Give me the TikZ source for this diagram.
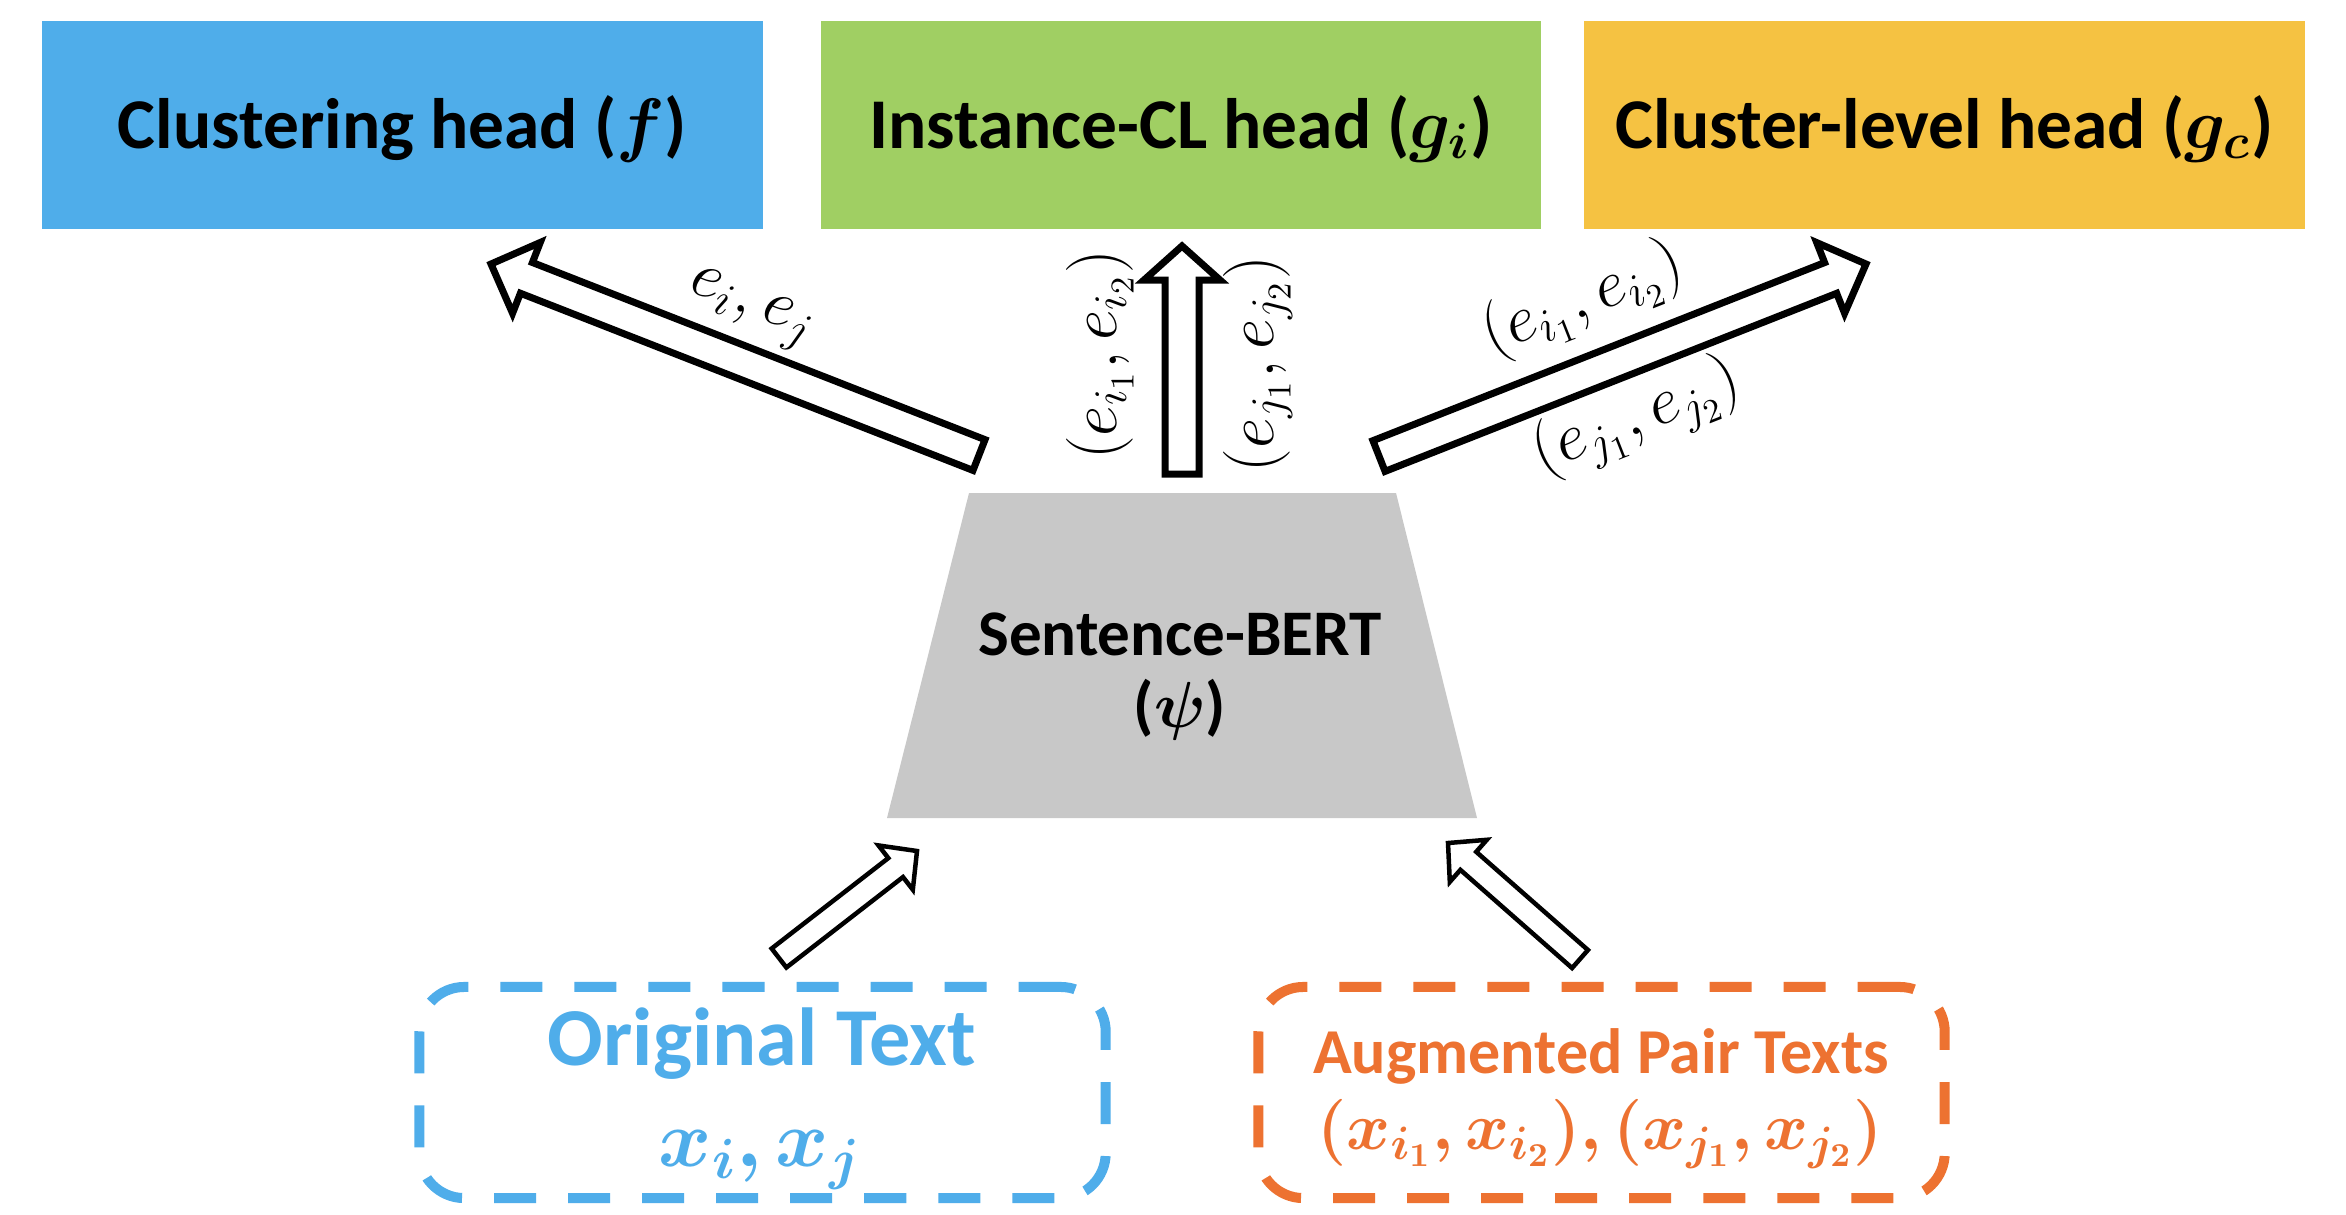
\RequirePackage{fix-cm}
\documentclass[tikz,border=0pt]{standalone}
\usepackage{fontspec}
\setmainfont{Carlito}
\usepackage{bm}
\usetikzlibrary{calc}
\definecolor{clblue}{HTML}{4FADEA}
\definecolor{clgreen}{HTML}{A0CF63}
\definecolor{clyellow}{HTML}{F5C242}
\definecolor{clgray}{HTML}{C8C8C8}
\definecolor{clorange}{HTML}{ED7231}
% block arrow: [style]{tail}{tip}{half shaft}{half head}{head length}
\newcommand\blockarrow[6][]{%
  \draw[#1] let \p1=($(#3)-(#2)$), \n1={atan2(\y1,\x1)} in
    ($(#2)+(\n1+90:#4)$) --
    ($(#3)+(\n1+180:#6)+(\n1+90:#4)$) --
    ($(#3)+(\n1+180:#6)+(\n1+90:#5)$) --
    (#3) --
    ($(#3)+(\n1+180:#6)+(\n1-90:#5)$) --
    ($(#3)+(\n1+180:#6)+(\n1-90:#4)$) --
    ($(#2)+(\n1-90:#4)$) -- cycle;}
\begin{document}
\begin{tikzpicture}[x=0.01cm,y=-0.01cm,
  headbox/.style={rectangle, minimum width=7.2cm, minimum height=2.08cm, inner sep=0pt, draw=none},
  headtxt/.style={anchor=base, inner sep=0pt, font=\fontsize{20.3}{24}\selectfont\bfseries},
  dbox/.style={rectangle, rounded corners=0.45cm, line width=0.1cm, dash pattern=on 0.42cm off 0.32cm, minimum width=6.86cm, minimum height=2.11cm, inner sep=0pt},
  bigarrow/.style={draw=black, fill=white, line width=0.07cm, line join=miter},
  smallarrow/.style={draw=black, fill=white, line width=0.045cm, line join=miter},
  lbl/.style={inner sep=0pt, font=\fontsize{19}{22}\selectfont},
  sbtxt/.style={anchor=base, inner sep=0pt, font=\fontsize{18.5}{22}\selectfont\bfseries}
]
\useasboundingbox[fill=white] (0,0) rectangle (2346,1214);

% top heads
\node[headbox, fill=clblue] (clus) at (402.5,125) {};
\node[headtxt] (clusT) at (402.5,148) {Clustering head ($\bm{f}$)};
\node[headbox, fill=clgreen] (inst) at (1181,125) {};
\node[headtxt] (instT) at (1181,148) {Instance-CL head ($\bm{g_i}$)};
\node[headbox, fill=clyellow] (clev) at (1944.5,125) {};
\node[headtxt] (clevT) at (1944.5,148) {Cluster-level head ($\bm{g_c}$)};

% Sentence-BERT trapezoid
\fill[clgray] (969,493) -- (1396,493) -- (1477,818) -- (887,818) -- cycle;
\node[sbtxt] (sbert) at (1180,655) {Sentence-BERT};
\node[sbtxt] (sbertpsi) at (1180,727) {($\bm{\psi}$)};

% input boxes
\node[dbox, draw=clblue] (orig) at (762.5,1092.5) {};
\node[anchor=base, inner sep=0pt, text=clblue, font=\fontsize{23.4}{28}\selectfont\bfseries] (origT) at (762,1065) {Original Text};
\node[anchor=base, inner sep=0pt, text=clblue, font=\fontsize{23}{28}\selectfont] (origM) at (760,1166) {$\bm{x_i, x_j}$};

\node[dbox, draw=clorange] (aug) at (1601.5,1092.5) {};
\node[anchor=base, inner sep=0pt, text=clorange, font=\fontsize{18.2}{22}\selectfont\bfseries] (augT) at (1601,1073) {Augmented Pair Texts};
\node[anchor=base, inner sep=0pt, text=clorange, font=\fontsize{19}{23}\selectfont] (augM) at (1600,1149) {$\bm{(x_{i_1}, x_{i_2}), (x_{j_1}, x_{j_2})}$};

% arrow end points
\coordinate (LAt) at (979,455);  \coordinate (LAh) at (491,264);
\coordinate (MAt) at (1182,474); \coordinate (MAh) at (1182,246);
\coordinate (RAt) at (1379,456); \coordinate (RAh) at (1866,264);
\coordinate (BLt) at (779,958);  \coordinate (BLh) at (917,851);
\coordinate (BRt) at (1580,959); \coordinate (BRh) at (1448,843);

% block arrows
\blockarrow[bigarrow]{LAt}{LAh}{0.165cm}{0.38cm}{0.38cm}
\blockarrow[bigarrow]{MAt}{MAh}{0.17cm}{0.38cm}{0.34cm}
\blockarrow[bigarrow]{RAt}{RAh}{0.165cm}{0.38cm}{0.38cm}
\blockarrow[smallarrow]{BLt}{BLh}{0.12cm}{0.28cm}{0.27cm}
\blockarrow[smallarrow]{BRt}{BRh}{0.12cm}{0.28cm}{0.27cm}

% arrow labels
\node[lbl, rotate=-21.4] (lblL) at (750,310) {$e_i, e_j$};
\node[lbl, rotate=90] (lblM1) at (1100,355) {$(e_{i_1}, e_{i_2})$};
\node[lbl, rotate=90] (lblM2) at (1258,364) {$(e_{j_1}, e_{j_2})$};
\node[lbl, rotate=21.5] (lblR1) at (1583,300) {$(e_{i_1}, e_{i_2})$};
\node[lbl, rotate=21.5] (lblR2) at (1637,418) {$(e_{j_1}, e_{j_2})$};
\end{tikzpicture}
\end{document}
